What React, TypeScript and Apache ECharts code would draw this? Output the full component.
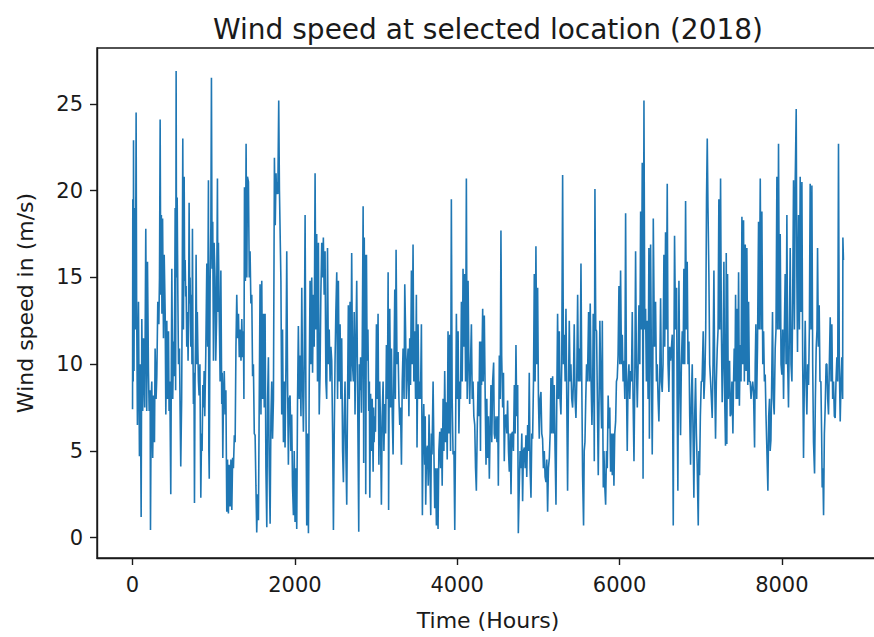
import React, { useEffect, useRef } from "react";
import * as echarts from "echarts";

const TITLE = "Wind speed at selected location (2018)";
const X_NAME = "Time (Hours)";
const Y_NAME = "Wind speed in (m/s)";
const xTicks = [0, 2000, 4000, 6000, 8000];
const yTicks = [0, 5, 10, 15, 20, 25];

// [hour, wind speed m/s] readings (peaks and troughs)
const part1: [number, number][] = [
  [0,7.4],[3,19.5],[8,9.0],[12,22.9],[18,9.6],[24,19.0],[35,12.0],[44,24.5],[50,13.8],[60,6.5],[73,13.6],[85,4.7],[95,10.0],[106,1.2],[114,12.6],[125,7.3],[135,11.5],[150,7.5],[163,17.8],[175,7.3],[184,15.9],[196,9.6],[205,7.3],[217,8.5],[221,0.45],[230,8.0],[237,9.0],[248,4.6],[258,8.2],[270,5.5],[278,10.9],[290,8.0],[299,9.3],[311,13.6],[324,12.3],[332,15.0],[340,24.1],[348,14.0],[355,18.6],[362,12.9],[370,18.4],[381,11.5],[390,16.3],[402,12.9],[410,7.1],[422,12.5],[432,8.0],[443,11.9],[450,7.3],[459,9.0],[471,2.5],[478,10.0],[484,15.5],[495,8.0],[505,11.3],[512,9.3],[520,14.0],[525,19.0],[531,8.5],[537,26.9],[542,15.0],[550,19.6],[558,14.0],[566,10.0],[578,10.9],[586,7.3],[594,4.1],[605,8.0],[612,14.0],[619,23.0],[627,12.0],[636,20.8],[642,14.8],[648,16.0],[655,13.9],[660,14.5],[668,11.0],[677,13.0],[684,10.2],[690,12.5],[697,19.3],[704,13.5],[709,15.0],[718,11.0],[726,14.0],[732,10.0],[738,17.8],[745,10.5],[750,7.7],[757,9.5],[763,2.0],[770,9.0],[778,12.0],[783,16.3],[792,10.0],[798,13.0],[804,11.0],[812,9.0],[820,8.2],[830,10.0],[841,2.3],[850,6.0],[857,5.0],[866,8.8],[874,7.5],[882,9.6],[890,7.0],[902,10.5],[915,15.8],[925,11.0],[935,20.6],[940,5.0],[945,3.4],[956,14.8],[965,18.0],[972,26.5],[980,15.5],[988,18.2],[997,10.2],[1005,17.0],[1017,14.8],[1025,10.2],[1035,12.5],[1046,20.7],[1052,13.0],[1058,17.0],[1068,13.0],[1079,9.0],[1088,15.4],[1099,7.7],[1105,9.5],[1112,4.6],[1120,8.0],[1130,9.6],[1140,7.1],[1150,8.5],[1161,1.5],[1170,4.5],[1181,1.4],[1190,4.2],[1202,1.8],[1212,4.5],[1223,1.6],[1233,4.6],[1243,4.0],[1254,5.9],[1264,5.5],[1274,11.0],[1284,14.0],[1294,11.5],[1305,12.9],[1315,10.4],[1325,12.0],[1336,10.2],[1346,12.6],[1356,10.4],[1366,11.9],[1372,8.0],[1379,20.2],[1390,14.8],[1399,22.7],[1408,15.0],[1416,20.8],[1428,20.5],[1438,15.0],[1448,16.5],[1458,13.5],[1469,14.0],[1479,9.3],[1489,10.0],[1500,6.0],[1510,5.9],[1520,3.0],[1530,0.3],[1540,2.5],[1551,1.0],[1561,8.0],[1571,14.6],[1582,7.1],[1592,14.8],[1602,8.0],[1613,12.9],[1623,7.5],[1633,12.9],[1643,4.0],[1654,0.6],[1664,8.0],[1674,10.4],[1684,4.0],[1695,0.8],[1705,7.0],[1715,9.0],[1725,5.7],[1736,8.0],[1748,21.9],[1758,18.0],[1768,21.0],[1774,19.8],[1781,20.5],[1790,19.8],[1801,25.2],[1810,20.0],[1818,20.0],[1828,14.8],[1838,7.1],[1848,12.0],[1859,5.5],[1869,9.0],[1879,5.2],[1890,10.0],[1900,16.5],[1910,9.0],[1920,4.2],[1930,8.0],[1941,8.2],[1951,5.0],[1961,7.1],[1971,3.0],[1982,1.3],[1992,5.0],[2002,0.9],[2012,4.0],[2023,0.5],[2033,8.0],[2043,12.2],[2054,8.0],[2064,10.5],[2075,7.0],[2085,14.4],[2095,9.0],[2105,6.1],[2115,10.0],[2126,18.6],[2136,8.0],[2146,0.7],[2156,6.0],[2167,0.26],[2177,9.0],[2187,14.8],[2197,10.0],[2208,15.0],[2218,9.5],[2228,14.0],[2238,11.0],[2249,21.0],[2259,12.0],[2269,17.5],[2279,9.0],[2290,17.0],[2300,7.1],[2310,9.4],[2320,14.0],[2331,17.0],[2341,15.0],[2351,17.3],[2361,14.0],[2372,16.5],[2382,9.0],[2392,8.0],[2402,16.7],[2413,10.0],[2423,12.0],[2434,9.0],[2444,11.0],[2454,10.2],[2465,6.0],[2475,0.45],[2485,6.0],[2495,10.2],[2505,13.0],[2516,15.3],[2526,8.0],[2536,14.8],[2546,9.0],[2557,12.3],[2567,8.0],[2577,11.5],[2588,5.0],[2598,3.2],[2608,7.0],[2618,9.0],[2628,5.0],[2639,1.9],[2649,8.0],[2659,13.4],[2670,8.0],[2680,13.6],[2690,9.0],[2700,16.4],[2710,10.0],[2721,9.0],[2731,13.0],[2741,7.1],[2751,11.0],[2762,14.8]
];

const part2: [number, number][] = [
  [2772,9.0],[2787,0.35],[2795,10.0],[2800,8.5],[2810,10.4],[2820,7.2],[2830,11.0],[2841,19.1],[2848,4.3],[2855,17.3],[2861,10.0],[2868,16.3],[2873,2.5],[2882,16.3],[2890,10.2],[2900,12.0],[2910,7.3],[2918,9.0],[2923,2.3],[2933,8.3],[2943,5.0],[2953,8.0],[2964,3.8],[2970,7.5],[2976,5.5],[2985,7.0],[2993,6.1],[3005,12.3],[3015,8.0],[3025,12.9],[3035,4.2],[3046,9.0],[3056,6.0],[3066,1.9],[3076,7.0],[3087,9.0],[3097,5.0],[3107,7.7],[3118,6.0],[3128,11.1],[3140,8.0],[3149,15.3],[3155,1.6],[3162,9.0],[3169,13.2],[3180,7.5],[3190,10.9],[3200,7.1],[3210,4.8],[3220,9.5],[3231,14.3],[3238,8.0],[3247,16.6],[3258,10.0],[3272,10.7],[3282,8.0],[3292,6.5],[3302,7.5],[3313,4.2],[3323,9.0],[3333,10.9],[3345,8.0],[3354,14.6],[3364,11.9],[3374,8.0],[3385,10.0],[3395,10.9],[3405,7.0],[3415,11.5],[3425,8.8],[3436,15.4],[3446,10.0],[3456,16.9],[3466,9.0],[3477,11.9],[3487,8.0],[3497,14.0],[3505,5.2],[3518,12.3],[3528,8.0],[3538,9.0],[3548,8.0],[3559,12.3],[3571,1.3],[3580,6.0],[3588,7.7],[3600,4.2],[3606,7.0],[3612,1.9],[3622,5.0],[3633,5.3],[3643,3.0],[3653,7.1],[3664,4.0],[3674,1.3],[3682,6.0],[3690,4.8],[3703,9.0],[3713,5.0],[3723,1.7],[3733,4.0],[3744,0.7],[3754,4.0],[3764,0.5],[3774,5.0],[3785,6.1],[3795,4.0],[3805,6.3],[3815,3.0],[3826,8.0],[3836,5.0],[3846,9.6],[3857,5.5],[3867,7.8],[3877,4.5],[3887,11.9],[3897,6.0],[3908,11.7],[3918,5.0],[3928,19.5],[3938,8.0],[3949,4.8],[3960,5.0],[3970,0.45],[3980,6.0],[3990,12.9],[4000,8.0],[4011,11.9],[4021,6.0],[4031,9.0],[4041,8.0],[4052,13.6],[4062,9.0],[4072,15.5],[4082,11.0],[4093,15.2],[4103,9.0],[4113,20.7],[4123,8.0],[4134,14.8],[4144,10.0],[4154,7.7],[4164,10.0],[4175,12.3],[4185,8.0],[4195,9.0],[4205,7.0],[4216,6.5],[4226,4.0],[4236,2.7],[4246,6.0],[4257,9.0],[4267,7.0],[4277,11.3]
];

const part3: [number, number][] = [
  [4287,5.0],[4293,11.3],[4300,8.8],[4314,13.2],[4320,9.0],[4334,12.8],[4345,8.0],[4355,4.2],[4365,8.0],[4375,4.6],[4385,7.0],[4396,3.4],[4405,6.0],[4416,8.8],[4426,5.5],[4437,9.0],[4449,10.1],[4457,6.0],[4465,5.7],[4478,7.0],[4490,5.5],[4500,7.0],[4507,3.0],[4519,10.5],[4530,8.0],[4539,17.7],[4548,10.5],[4560,7.5],[4570,9.5],[4580,4.4],[4590,7.0],[4601,7.1],[4611,6.0],[4621,7.9],[4632,5.0],[4642,3.8],[4652,6.0],[4663,2.5],[4673,6.0],[4683,6.1],[4693,5.0],[4704,8.8],[4714,6.0],[4724,11.1],[4734,7.0],[4745,8.8],[4753,0.26],[4765,3.0],[4775,5.0],[4786,4.0],[4796,6.0],[4806,2.1],[4816,5.0],[4827,5.2],[4837,4.0],[4847,5.9],[4857,3.5],[4868,6.5],[4878,5.0],[4888,9.5],[4898,4.0],[4909,2.3],[4919,6.0],[4929,5.7],[4940,9.0],[4950,15.2],[4960,9.0],[4970,16.8],[4980,10.0],[4991,14.4],[5001,8.0],[5011,5.7],[5021,8.0],[5032,8.4],[5042,6.0],[5052,5.7],[5062,4.0],[5073,5.0],[5083,3.5],[5094,3.2],[5104,4.5],[5114,1.5],[5124,4.0],[5135,4.6],[5145,6.0],[5155,9.2],[5165,6.0],[5176,9.3],[5186,6.0],[5196,8.8],[5206,5.0],[5217,1.9],[5227,8.0],[5237,12.9],[5247,8.0],[5258,11.9],[5268,8.0],[5278,7.1],[5288,10.0],[5299,20.9],[5309,10.0],[5319,11.7],[5330,9.0],[5340,13.2],[5350,8.0],[5360,2.7],[5370,8.0],[5381,12.5],[5391,9.0],[5401,10.0],[5411,8.0],[5422,7.5],[5432,9.0],[5442,12.3],[5452,8.0],[5463,6.9],[5473,9.0],[5484,14.0],[5494,9.0],[5504,10.9],[5514,9.0],[5525,15.8],[5535,9.0],[5545,3.6],[5557,0.7],[5565,5.0],[5574,5.5],[5584,8.0],[5594,10.0],[5605,9.0],[5619,13.0],[5629,9.0],[5639,13.5],[5650,9.0],[5660,6.5],[5670,9.0],[5676,12.9],[5684,9.0],[5689,4.4],[5697,20.1],[5707,12.0],[5717,11.9],[5727,8.0],[5738,3.6],[5748,8.0],[5758,12.5],[5768,9.0],[5779,6.3]
];

const part4: [number, number][] = [
  [5788,12.5],[5795,6.1],[5800,2.9],[5808,5.0],[5818,3.0],[5829,1.9],[5839,5.0],[5849,4.0],[5860,8.2],[5870,6.3],[5880,7.5],[5890,3.8],[5900,6.0],[5911,3.6],[5921,6.0],[5931,3.0],[5941,6.0],[5952,6.7],[5962,9.0],[5972,9.2],[5982,10.5],[5993,14.5],[6003,10.0],[6013,15.4],[6024,10.0],[6034,11.7],[6044,9.0],[6054,10.2],[6065,8.0],[6075,18.7],[6085,9.0],[6095,5.0],[6105,9.0],[6116,10.0],[6126,8.0],[6136,9.6],[6147,9.0],[6157,13.0],[6167,8.0],[6178,4.4],[6188,9.0],[6198,16.5],[6208,10.0],[6219,7.5],[6229,10.0],[6239,13.4],[6250,10.0],[6260,18.8],[6270,12.0],[6280,21.6],[6290,3.4],[6301,25.2],[6311,12.0],[6321,13.2],[6331,9.0],[6342,12.5],[6352,8.0],[6362,16.7],[6368,5.7],[6376,12.0],[6383,16.9],[6393,10.0],[6403,4.8],[6410,9.0],[6416,18.4],[6430,11.0],[6444,13.6],[6455,9.0],[6465,10.0],[6475,8.0],[6485,6.7],[6495,9.0],[6506,13.8],[6516,9.0],[6526,8.4],[6536,10.0],[6547,16.3],[6557,11.0],[6567,17.6],[6577,12.0],[6588,20.4],[6598,10.0],[6608,8.4],[6618,11.0],[6629,10.2],[6640,11.0],[6650,11.7],[6662,0.7],[6670,10.0],[6678,17.4],[6690,12.0],[6703,14.4],[6710,8.0],[6719,2.7],[6725,9.0],[6732,14.8],[6742,9.0],[6752,5.9],[6762,10.0],[6773,11.9],[6783,10.0],[6793,15.5],[6803,10.0],[6814,19.4],[6824,12.0],[6834,15.9],[6844,10.0],[6855,11.3],[6865,7.0],[6875,4.2],[6885,8.0],[6896,10.0],[6906,6.0],[6916,2.3],[6926,7.0],[6937,9.2],[6947,6.0],[6957,4.2],[6970,0.7],[6978,5.0],[6986,3.6],[6996,7.0],[7007,9.0],[7017,9.0],[7031,11.9],[7040,8.0],[7052,9.4],[7062,12.0],[7072,19.6],[7081,23.0],[7090,19.0],[7101,15.2],[7111,10.0],[7122,9.0],[7132,8.0],[7142,6.9],[7152,10.0],[7163,15.4],[7173,9.0],[7183,5.7],[7193,9.0],[7204,10.9],[7214,12.0],[7224,19.5],[7234,12.0],[7245,20.7],[7255,12.0],[7265,7.8],[7275,10.0],[7286,15.9],[7296,8.0],[7306,5.3]
];

const part5: [number, number][] = [
  [7315,16.4],[7322,5.4],[7331,15.2],[7340,8.0],[7356,10.2],[7364,7.0],[7372,7.1],[7385,9.0],[7397,6.0],[7405,9.0],[7413,10.9],[7422,9.0],[7430,14.0],[7438,8.0],[7446,13.2],[7456,8.0],[7467,15.3],[7477,7.6],[7487,11.1],[7497,9.0],[7508,18.5],[7518,10.0],[7528,18.3],[7538,9.0],[7549,16.9],[7559,9.6],[7569,16.7],[7580,8.8],[7590,13.6],[7600,9.0],[7610,9.0],[7620,8.0],[7631,8.6],[7641,9.0],[7651,8.4],[7664,5.2],[7672,10.0],[7680,12.3],[7690,8.0],[7700,11.0],[7713,18.2],[7722,12.0],[7734,20.7],[7744,12.0],[7754,18.8],[7765,10.0],[7775,11.9],[7785,9.0],[7795,9.4],[7805,7.0],[7816,5.0],[7828,2.7],[7838,7.0],[7848,8.0],[7856,5.0],[7865,5.6],[7875,9.0],[7885,13.0],[7895,8.0],[7906,7.1],[7912,9.0],[7918,10.9],[7928,12.0],[7939,20.8],[7949,12.0],[7959,22.7],[7970,12.0],[7980,17.5],[7990,10.0],[8000,9.4],[8010,12.0],[8021,8.0],[8031,12.0],[8041,15.2],[8052,10.0],[8062,18.6],[8072,10.0],[8082,7.5],[8093,12.0],[8103,16.7],[8113,10.0],[8124,9.0],[8134,14.0],[8144,20.6],[8155,12.0],[8165,20.6],[8177,24.7],[8185,15.0],[8193,10.7],[8200,16.0],[8206,18.6],[8216,12.0],[8226,20.8],[8236,13.0],[8247,20.5],[8257,10.0],[8267,4.6],[8277,9.0],[8288,12.5],[8298,9.0],[8308,7.1],[8318,10.0],[8329,8.8],[8339,12.0],[8349,20.4],[8360,12.0],[8370,20.3],[8380,10.0],[8390,5.5],[8403,3.7],[8413,8.0],[8423,10.9],[8433,12.0],[8440,16.7],[8450,11.0],[8460,13.4],[8470,9.0],[8481,9.0],[8490,6.0],[8497,2.9],[8505,4.0],[8514,1.3],[8524,6.0],[8534,7.5],[8545,10.0],[8555,10.0],[8565,8.0],[8575,7.1],[8585,10.0],[8596,12.7],[8606,9.0],[8616,12.3],[8626,8.0],[8637,9.0],[8647,7.0],[8657,6.9],[8667,9.0],[8678,10.4],[8688,9.0],[8698,22.7],[8708,10.0],[8719,6.7],[8729,9.0],[8739,10.4],[8749,8.0],[8752,17.3],[8759,16.0]
];

const FONT = "'DejaVu Sans', sans-serif";
const INK = "#1a1a1a";

export default function App() {
  const ref = useRef<HTMLDivElement>(null);
  useEffect(() => {
    if (!ref.current) return;
    const chart = echarts.init(ref.current, undefined, { renderer: "svg" });
    const data = [...part1, ...part2, ...part3, ...part4, ...part5];
    chart.setOption({
      animation: false,
      backgroundColor: "#ffffff",
      grid: {
        left: 97,
        top: 48,
        width: 782,
        height: 510,
        show: true,
        borderColor: INK,
        borderWidth: 1.4,
        containLabel: false,
        outerBoundsMode: "none",
      },
      xAxis: {
        type: "value",
        min: -438,
        max: 9197,
        splitLine: { show: false },
        axisLine: { show: true, onZero: false, lineStyle: { color: INK, width: 1.4 } },
        axisTick: { show: true, customValues: xTicks, length: 7, lineStyle: { color: INK, width: 1.4 } },
        axisLabel: {
          customValues: xTicks,
          formatter: (v: number) => String(v),
          margin: 16,
          fontSize: 21,
          fontFamily: FONT,
          color: INK,
        },
      },
      yAxis: {
        type: "value",
        min: -1.17,
        max: 28.22,
        splitLine: { show: false },
        axisLine: { show: true, onZero: false, lineStyle: { color: INK, width: 1.4 } },
        axisTick: { show: true, customValues: yTicks, length: 7, lineStyle: { color: INK, width: 1.4 } },
        axisLabel: {
          customValues: yTicks,
          formatter: (v: number) => String(v),
          margin: 14,
          fontSize: 21,
          fontFamily: FONT,
          color: INK,
        },
      },
      graphic: [
        {
          type: "text",
          x: 488,
          y: 29,
          style: {
            text: TITLE,
            fontSize: 28,
            fontFamily: FONT,
            fill: INK,
            textAlign: "center",
            textVerticalAlign: "middle",
          },
        },
        {
          type: "text",
          x: 488,
          y: 620,
          style: {
            text: X_NAME,
            fontSize: 22,
            fontFamily: FONT,
            fill: INK,
            textAlign: "center",
            textVerticalAlign: "middle",
          },
        },
        {
          type: "text",
          x: 25,
          y: 303,
          rotation: Math.PI / 2,
          style: {
            text: Y_NAME,
            fontSize: 22,
            fontFamily: FONT,
            fill: INK,
            textAlign: "center",
            textVerticalAlign: "middle",
          },
        },
      ],
      series: [
        {
          type: "line",
          data,
          showSymbol: false,
          symbol: "none",
          clip: true,
          lineStyle: { color: "#1f77b4", width: 1.6 },
          emphasis: { disabled: true },
        },
      ],
    });
    return () => chart.dispose();
  }, []);
  return (
    <div
      ref={ref}
      style={{ position: "absolute", left: 0, top: 0, width: 874, height: 637, background: "#fff" }}
    />
  );
}
